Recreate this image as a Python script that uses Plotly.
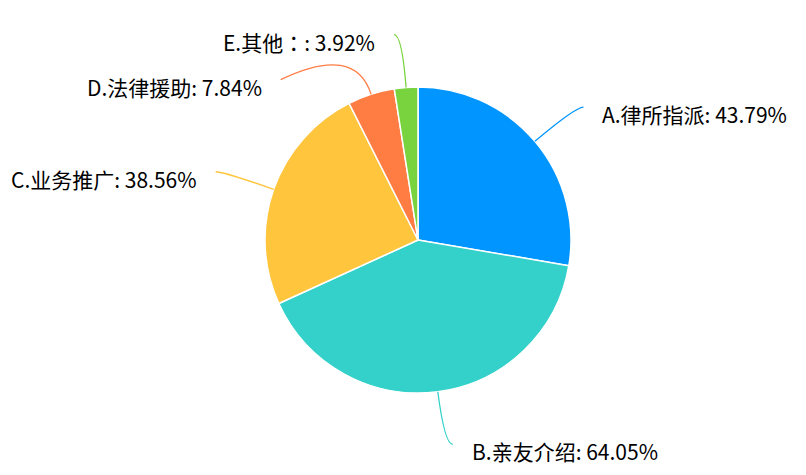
import math
import plotly.graph_objects as go

# ---- data ----
labels = ["A.律所指派", "B.亲友介绍", "C.业务推广", "D.法律援助", "E.其他："]
values = [43.79, 64.05, 38.56, 7.84, 3.92]
colors = ["#0095ff", "#33d1c9", "#ffc53d", "#ff7c43", "#78d33e"]

# ---- geometry / style ----
W, H = 806, 475
CX, CY, R = 418, 240, 153
L1 = 53        # radial length of the first leader segment
L2 = 8         # horizontal length of the second segment
GAP = 17       # gap between line end and text
MIN_SEP = 45   # minimum vertical distance between labels on one side
FONT = "Noto Sans CJK SC, Microsoft YaHei, sans-serif"
FSIZE = 21
TEXT_DY = 7

def px(x):
    return x / W

def py(y):
    return 1 - y / H

def fmt_label(s):
    # full-width colon drawn centred, as in the reference font
    return s.replace("：", '<span style="font-family:Noto Sans CJK TC">：</span>')

fig = go.Figure()
fig.add_trace(go.Pie(
    labels=labels, values=values, sort=False, direction="clockwise", rotation=0,
    marker=dict(colors=colors, line=dict(color="white", width=1.5)),
    textinfo="none", hoverinfo="none", showlegend=False,
    domain=dict(x=[px(CX - R), px(CX + R)], y=[py(CY + R), py(CY - R)]),
))

total = sum(values)
items = []
acc = 0.0
for lab, v, col in zip(labels, values, colors):
    mid = (acc + v / 2) / total * 2 * math.pi
    acc += v
    s, c = math.sin(mid), math.cos(mid)
    anchor = (CX + R * s, CY - R * c)
    elbow = (CX + (R + L1) * s, CY - (R + L1) * c)
    items.append(dict(lab=lab, v=v, col=col, s=s, anchor=anchor, elbow=elbow,
                      side=1 if s >= 0 else -1, y=elbow[1]))

# simple overlap resolution on each side
for side in (1, -1):
    grp = sorted([it for it in items if it["side"] == side], key=lambda d: d["y"])
    for i in range(1, len(grp)):
        if grp[i]["y"] < grp[i - 1]["y"] + MIN_SEP:
            grp[i]["y"] = grp[i - 1]["y"] + MIN_SEP

shapes = []
annotations = []
rl = R + L1
for it in items:
    side = it["side"]
    ey = it["y"]
    if abs(ey - it["elbow"][1]) > 0.5:
        dy = ey - CY
        dx = math.sqrt(max(rl * rl - dy * dy, 0))
        ex = CX + side * dx + side * L2
    else:
        ex = it["elbow"][0] + side * L2
    ax, ay = it["anchor"]
    bx, by = it["elbow"]
    path = f"M {px(ax)},{py(ay)} Q {px(bx)},{py(by)} {px(ex)},{py(ey)}"
    shapes.append(dict(type="path", path=path, xref="paper", yref="paper",
                       line=dict(color=it["col"], width=1.3)))
    annotations.append(dict(
        x=px(ex + side * GAP), y=py(ey + TEXT_DY), xref="paper", yref="paper",
        text=f"{fmt_label(it['lab'])}: {it['v']:.2f}%", showarrow=False,
        xanchor="left" if side > 0 else "right", yanchor="middle",
        font=dict(family=FONT, size=FSIZE, color="#000000"),
    ))

fig.update_layout(
    width=W, height=H, margin=dict(l=0, r=0, t=0, b=0),
    paper_bgcolor="white", plot_bgcolor="white",
    shapes=shapes, annotations=annotations, showlegend=False,
)
fig.write_html("out.html")
